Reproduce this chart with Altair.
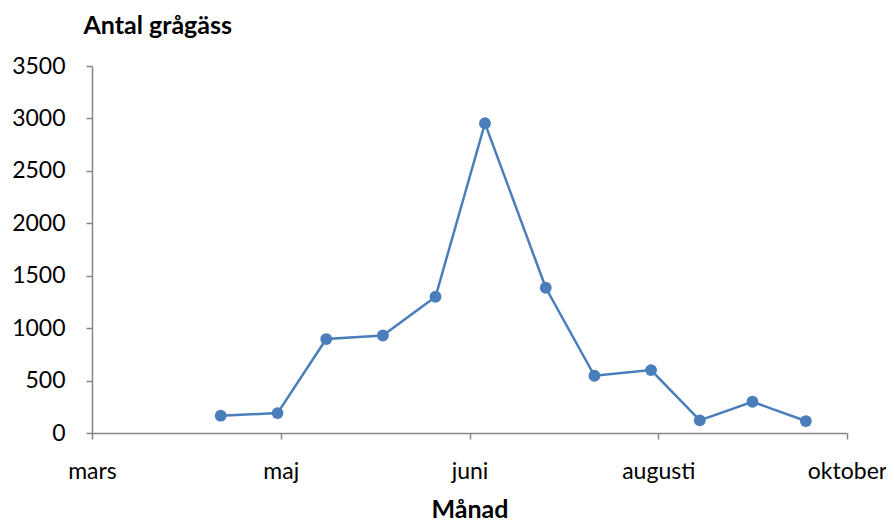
import altair as alt
import pandas as pd
import json

# Data (x in axis-tick units: 0=mars, 1=maj, 2=juni, 3=augusti, 4=oktober)
tick_labels = ["mars", "maj", "juni", "augusti", "oktober"]
x_pos = [0.682, 0.983, 1.241, 1.541, 1.820, 2.082, 2.404, 2.662, 2.962, 3.220, 3.499, 3.782]
antal = [165, 190, 896, 930, 1299, 2954, 1385, 546, 600, 120, 298, 114]

df = pd.DataFrame({"x": x_pos, "antal": antal})

FONT = "Lato"
AXIS_COLOR = "#868686"
LINE_COLOR = "#4a7ebb"

label_expr = json.dumps(tick_labels) + "[datum.value]"

x_enc = alt.X(
    "x:Q",
    scale=alt.Scale(domain=[0, len(tick_labels) - 1], nice=False, zero=False),
    axis=alt.Axis(
        title="Månad",
        values=list(range(len(tick_labels))),
        labelExpr=label_expr,
        grid=False,
        domainColor=AXIS_COLOR,
        domainWidth=1.5,
        tickColor=AXIS_COLOR,
        tickWidth=1.5,
        tickSize=6,
        labelFont=FONT,
        labelFontSize=23,
        labelColor="#000000",
        labelBaseline="alphabetic",
        labelPadding=39,
        labelFlush=False,
        labelOverlap=False,
        titleFont=FONT,
        titleFontSize=25,
        titleFontWeight="bold",
        titleColor="#000000",
        titleBaseline="alphabetic",
        titleY=84,
    ),
)

y_enc = alt.Y(
    "antal:Q",
    scale=alt.Scale(domain=[0, 3500], nice=False),
    axis=alt.Axis(
        title="Antal grågäss",
        values=list(range(0, 3501, 500)),
        format="d",
        grid=False,
        domainColor=AXIS_COLOR,
        domainWidth=1.5,
        tickColor=AXIS_COLOR,
        tickWidth=1.5,
        tickSize=6,
        labelFont=FONT,
        labelFontSize=23,
        labelColor="#000000",
        labelPadding=21,
        titleFont=FONT,
        titleFontSize=25,
        titleFontWeight="bold",
        titleColor="#000000",
        titleAngle=0,
        titleAlign="left",
        titleBaseline="alphabetic",
        titleX=-9,
        titleY=-33,
    ),
)

line = alt.Chart(df).mark_line(color=LINE_COLOR, strokeWidth=2.5).encode(x=x_enc, y=y_enc)
points = alt.Chart(df).mark_circle(color=LINE_COLOR, size=140, opacity=1).encode(x="x:Q", y="antal:Q")

chart = (
    alt.layer(line, points)
    .properties(
        width=755,
        height=367,
        autosize=alt.AutoSizeParams(type="none"),
        padding={"left": 84, "top": 58, "right": 39, "bottom": 89},
    )
    .configure(background="white", view=alt.ViewConfig(stroke=None))
)

chart.save("out.html", embed_options={"renderer": "svg", "actions": False})
